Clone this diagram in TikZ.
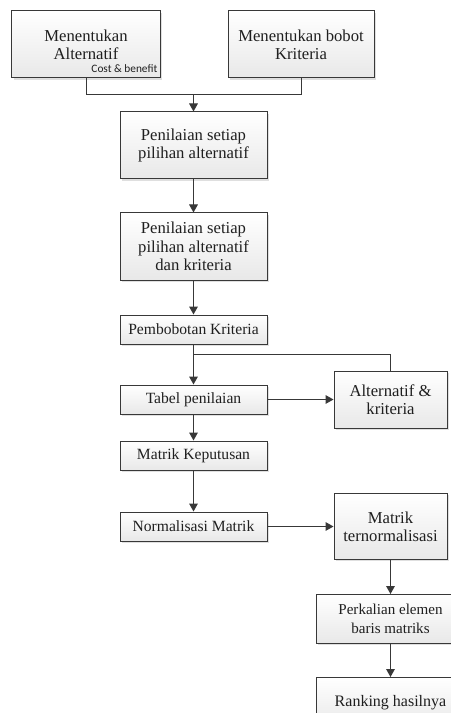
\documentclass[tikz,border=0pt]{standalone}
\usepackage{fontspec}
\setmainfont{Liberation Serif}
\newfontfamily\calibri{Carlito}
\usetikzlibrary{arrows.meta,positioning,shadows,calc}

\begin{document}
\begin{tikzpicture}[->,>={Triangle[width=6.5pt,length=6pt]},line width=0.75pt,color=black!78,
  box/.style={rectangle,draw,top color=white,bottom color=black!9,align=center,inner sep=2pt,
    text=black!88,drop shadow={shadow xshift=1.2pt,shadow yshift=-1.2pt,opacity=0.25},
    font=\fontsize{12.5}{13.75}\selectfont},
  smallbox/.style={box,minimum width=110.25pt,minimum height=21.75pt,font=\fontsize{11.7}{13.5}\selectfont},
  bigbox/.style={box,minimum width=110.25pt,minimum height=50.25pt},
  sidebox/.style={box,minimum width=84.75pt}]

  \useasboundingbox (-64.5pt,33.375pt) rectangle (273pt,-501.375pt);

  \node[bigbox,minimum width=111pt]   (A) at (0,0)            {Menentukan\\Alternatif};
  \node[anchor=south east,inner xsep=2pt,inner ysep=4pt,text=black!88,font=\calibri\fontsize{8.5}{10}\selectfont]
                                      (cb) at (A.south east)  {Cost \& benefit};
  \node[bigbox,minimum width=109.5pt] (B) [right=50.25pt of A] {Menentukan bobot\\Kriteria};
  \coordinate (AB) at ($(A.south)!0.5!(B.south)+(0,-12pt)$);
  \node[bigbox]   (C) [below=12.75pt of AB] {Penilaian setiap\\pilihan alternatif};
  \node[bigbox]   (D) [below=24.75pt of C]  {Penilaian setiap\\pilihan alternatif\\dan kriteria};
  \node[smallbox] (E) [below=25.5pt of D]   {Pembobotan Kriteria};
  \coordinate (EF) at ($(E.south)+(0,-7.5pt)$);
  \node[smallbox] (G) [below=30pt of E]     {Tabel penilaian};
  \node[smallbox] (H) [below=19.5pt of G]   {Matrik Keputusan};
  \node[smallbox] (I) [below=30.75pt of H]  {Normalisasi Matrik};
  \node[sidebox,minimum height=42.75pt] (F) [right=49.5pt of G] {Alternatif \&\\kriteria};
  \node[sidebox,minimum height=49.5pt]  (J) [right=49.5pt of I] {Matrik\\ternormalisasi};
  \node[box,minimum width=111pt,minimum height=36.75pt,font=\fontsize{11.3}{13.75}\selectfont]
                                        (K) [below=25.5pt of J] {Perkalian elemen\\baris matriks};
  \node[box,minimum width=111pt,minimum height=37.5pt,font=\fontsize{12}{13.75}\selectfont]
                                        (L) [below=24.75pt of K] {Ranking hasilnya};

  \draw[-] (A.south) |- (AB) -| (B.south);
  \draw[-] (EF) -| (F.north);

  \path (AB) edge (C)
        (C)  edge (D)
        (D)  edge (E)
        (E)  edge (G)
        (G)  edge (H)
             edge (F)
        (H)  edge (I)
        (I)  edge (J)
        (J)  edge (K)
        (K)  edge (L);

\end{tikzpicture}
\end{document}
